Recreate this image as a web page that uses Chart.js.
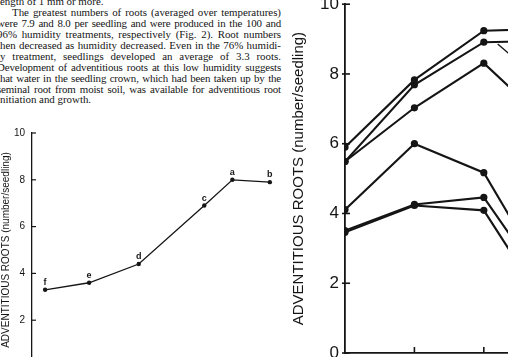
<!DOCTYPE html>
<html>
<head>
<meta charset="utf-8">
<script src="https://cdn.jsdelivr.net/npm/chart.js@4.4.1/dist/chart.umd.min.js"></script>
<style>
html, body { margin: 0; padding: 0; background: #fff; overflow: hidden; width: 508px; height: 357px; position: relative; }
#text { position: absolute; left: -3px; top: -4px; width: 284px; font-family: "Liberation Serif", serif; font-size: 10.9px; color: #141414; }
#text div { height: 10.95px; line-height: 10.95px; white-space: nowrap; text-align: justify; text-align-last: justify; }
#text div.last { text-align-last: left; }
#text div.tight { letter-spacing: -0.15px; }
#text div.indent { text-indent: 15px; }
#left { position: absolute; left: 0; top: 120px; }
#right { position: absolute; left: 285px; top: -12px; }
</style>
</head>
<body>
<div id="text">
  <div class="last">length of 1 mm or more.</div>
  <div class="indent">The greatest numbers of roots (averaged over temperatures)</div>
  <div class="tight">were 7.9 and 8.0 per seedling and were produced in the 100 and</div>
  <div>96% humidity treatments, respectively (Fig. 2). Root numbers</div>
  <div>then decreased as humidity decreased. Even in the 76% humidi-</div>
  <div>ty treatment, seedlings developed an average of 3.3 roots.</div>
  <div class="tight">Development of adventitious roots at this low humidity suggests</div>
  <div class="tight">that water in the seedling crown, which had been taken up by the</div>
  <div class="tight">seminal root from moist soil, was available for adventitious root</div>
  <div class="last">initiation and growth.</div>
</div>
<canvas id="left" width="290" height="260"></canvas>
<canvas id="right" width="300" height="382"></canvas>
<script>
// Fig. 2: roots vs humidity (left panel)
const humidity = [76, 80.7, 86, 93, 96, 100];
const rootsByHumidity = [3.3, 3.6, 4.4, 6.9, 8.0, 7.9];
const letters = ['f', 'e', 'd', 'c', 'a', 'b'];

// right panel: roots vs temperature, one line per humidity treatment
const temps = [10, 15, 20, 25];
const seriesA = [5.9, 7.83, 9.24, 9.3];
const seriesB = [5.49, 7.69, 8.91, 8.95];
const seriesC = [5.49, 7.03, 8.31, 6.45];
const seriesD = [4.11, 6.0, 5.17, 1.8];
const seriesE = [3.51, 4.26, 4.46, 1.6];
const seriesF = [3.46, 4.23, 4.09, 1.0];

// pointer arrow to series B (x, y in data units)
const arrowFrom = [21.0, 8.86];
const arrowTo = [21.9, 8.55];

const yTicks = [0, 2, 4, 6, 8, 10];
const ink = '#151515';
const titleText = 'ADVENTITIOUS ROOTS (number/seedling)';

// small tick marks drawn into the plot, like the printed figure
const inwardTicks = {
    id: 'inwardTicks',
    afterDraw(chart, args, opts) {
        const { ctx, chartArea, scales } = chart;
        ctx.save();
        ctx.strokeStyle = ink;
        ctx.lineWidth = opts.width;
        yTicks.forEach(v => {
            const y = scales.y.getPixelForValue(v);
            ctx.beginPath();
            ctx.moveTo(chartArea.left - opts.out, y);
            ctx.lineTo(chartArea.left + opts.len, y);
            ctx.stroke();
        });
        (opts.xTicks || []).forEach(v => {
            const x = scales.x.getPixelForValue(v);
            ctx.beginPath();
            ctx.moveTo(x, chartArea.bottom);
            ctx.lineTo(x, chartArea.bottom - opts.len - 1);
            ctx.stroke();
        });
        if (opts.arrow) {
            ctx.lineWidth = 1.3;
            ctx.beginPath();
            ctx.moveTo(scales.x.getPixelForValue(arrowFrom[0]), scales.y.getPixelForValue(arrowFrom[1]));
            ctx.lineTo(scales.x.getPixelForValue(arrowTo[0]), scales.y.getPixelForValue(arrowTo[1]));
            ctx.stroke();
        }
        ctx.restore();
    }
};

// letters above each point of the left panel
const pointLetters = {
    id: 'pointLetters',
    afterDatasetsDraw(chart) {
        const { ctx } = chart;
        const meta = chart.getDatasetMeta(0);
        ctx.save();
        ctx.fillStyle = ink;
        ctx.font = 'bold 9px "Liberation Sans", Arial, sans-serif';
        ctx.textAlign = 'center';
        ctx.textBaseline = 'bottom';
        meta.data.forEach((pt, i) => {
            ctx.fillText(letters[i], pt.x, pt.y - 3);
        });
        ctx.restore();
    }
};

function lineSet(values, xs, width, radius) {
    return {
        data: values.map((v, i) => ({ x: xs[i], y: v })),
        borderColor: ink,
        backgroundColor: ink,
        borderWidth: width,
        pointRadius: radius,
        pointBorderWidth: 0,
        tension: 0
    };
}

new Chart(document.getElementById('left').getContext('2d'), {
    type: 'line',
    data: { datasets: [lineSet(rootsByHumidity, humidity, 1.3, 2.2)] },
    options: {
        responsive: false,
        devicePixelRatio: 1,
        animation: false,
        layout: { padding: { top: 12, right: 8, bottom: 11, left: 0 } },
        plugins: {
            legend: { display: false },
            tooltip: { enabled: false },
            inwardTicks: { width: 1.2, len: 4, out: 0 }
        },
        scales: {
            x: { type: 'linear', min: 74.6, max: 101.3, display: false },
            y: {
                min: 0, max: 10,
                afterFit: s => { s.width = 32; },
                afterBuildTicks: s => { s.ticks = yTicks.map(v => ({ value: v })); },
                grid: { display: false, drawTicks: false },
                border: { display: true, color: ink, width: 1.3 },
                ticks: { color: ink, padding: 7, font: { family: '"Liberation Sans", Arial', size: 10 } },
                title: {
                    display: true, text: titleText, color: ink,
                    padding: { top: 0, bottom: 0 },
                    font: { family: '"Liberation Sans", Arial', size: 10 }
                }
            }
        }
    },
    plugins: [inwardTicks, pointLetters]
});

new Chart(document.getElementById('right').getContext('2d'), {
    type: 'line',
    data: {
        datasets: [seriesA, seriesB, seriesC, seriesD, seriesE, seriesF].map(s => lineSet(s, temps, 2.1, 3.6))
    },
    options: {
        responsive: false,
        devicePixelRatio: 1,
        animation: false,
        layout: { padding: { top: 3, right: 0, bottom: 0, left: 0 } },
        plugins: {
            legend: { display: false },
            tooltip: { enabled: false },
            inwardTicks: { width: 1.6, len: 5, out: 3, xTicks: temps.slice(1), arrow: true }
        },
        scales: {
            x: {
                type: 'linear', min: 10, max: 27,
                afterFit: s => { s.height = 17; },
                grid: { display: false, drawTicks: false },
                border: { display: true, color: ink, width: 1.8 },
                ticks: { display: false }
            },
            y: {
                min: 0, max: 10,
                afterFit: s => { s.width = 60; },
                afterBuildTicks: s => { s.ticks = yTicks.map(v => ({ value: v })); },
                grid: { display: false, drawTicks: false },
                border: { display: true, color: ink, width: 1.8 },
                ticks: { color: ink, padding: 6, font: { family: '"Liberation Sans", Arial', size: 17 } },
                title: {
                    display: true, text: titleText, color: ink,
                    padding: { top: 5, bottom: 0 },
                    font: { family: '"Liberation Sans", Arial', size: 15 }
                }
            }
        }
    },
    plugins: [inwardTicks]
});
</script>
</body>
</html>
